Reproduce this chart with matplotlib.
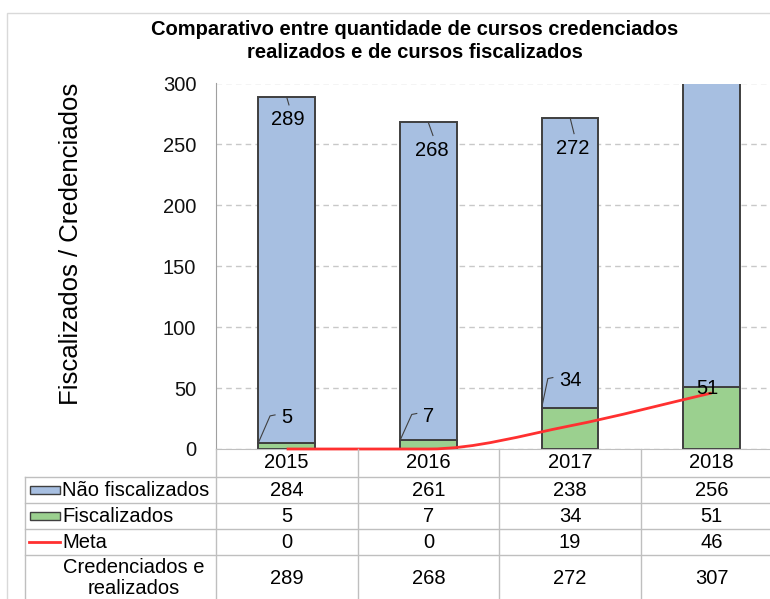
import numpy as np
import matplotlib
matplotlib.use('Agg')
import matplotlib.pyplot as plt
from matplotlib.path import Path
from matplotlib.patches import PathPatch, Rectangle
from matplotlib.lines import Line2D
import matplotlib.transforms as mtransforms

plt.rcParams['font.family'] = ['Liberation Sans', 'DejaVu Sans']

# ---------------- data ----------------
years = ['2015', '2016', '2017', '2018']
nao_fiscalizados = [284, 261, 238, 256]
fiscalizados = [5, 7, 34, 51]
meta = [0, 0, 19, 46]
credenciados = [289, 268, 272, 307]

title = 'Comparativo entre quantidade de cursos credenciados\nrealizados e de cursos fiscalizados'
ylabel = 'Fiscalizados / Credenciados'
row_labels = ['Não fiscalizados', 'Fiscalizados', 'Meta', 'Credenciados e\nrealizados']
yticks = [0, 50, 100, 150, 200, 250, 300]

# ---------------- style ----------------
BLUE = '#A7BFE1'
GREEN = '#9BD08F'
EDGE = '#3F3F3F'
RED = '#FF3030'
GRID = '#C8C8C8'
TBL = '#BFBFBF'
FS = 14.5

W, H = 770, 599
fig = plt.figure(figsize=(W / 100, H / 100), dpi=100)


def fx(px):
    return px / W


def fy(py):
    return 1 - py / H


ax_left, ax_right, ax_top, ax_bot = 215.8, 782.6, 83.5, 449.0
ax = fig.add_axes([fx(ax_left), fy(ax_bot), (ax_right - ax_left) / W, (ax_bot - ax_top) / H])

x = np.arange(len(years))
bw = 0.40
ax.bar(x, fiscalizados, bw, color=GREEN, edgecolor=EDGE, linewidth=1.4, zorder=2)
ax.bar(x, nao_fiscalizados, bw, bottom=fiscalizados, color=BLUE, edgecolor=EDGE,
       linewidth=1.4, zorder=2)

ax.set_xlim(-0.5, len(years) - 0.5)
ax.set_ylim(0, 300)
ax.set_yticks(yticks)
ax.set_xticks([])
ax.yaxis.grid(True, linestyle=(0, (4, 3)), color=GRID, linewidth=1)
ax.set_axisbelow(True)
ax.tick_params(axis='y', length=0, pad=14, labelsize=FS, labelcolor='#111111')
for s in ['top', 'right']:
    ax.spines[s].set_visible(False)
ax.spines['left'].set_color('#A0A0A0')
ax.spines['bottom'].set_color(TBL)


# smoothed Meta line (Bezier through the data points, no overshoot on flat parts)
def smooth_path(xs, ys):
    pts = np.column_stack([xs, ys]).astype(float)
    n = len(pts)
    tang = []
    for i in range(n):
        if i == 0:
            t = pts[1] - pts[0]
        elif i == n - 1:
            t = pts[-1] - pts[-2]
        else:
            s0 = pts[i][1] - pts[i - 1][1]
            s1 = pts[i + 1][1] - pts[i][1]
            t = (pts[i + 1] - pts[i - 1]) / 2
            if s0 * s1 <= 0:
                t = np.array([t[0], 0.0])
        tang.append(t)
    verts = [pts[0]]
    codes = [Path.MOVETO]
    for i in range(n - 1):
        verts += [pts[i] + tang[i] / 3, pts[i + 1] - tang[i + 1] / 3, pts[i + 1]]
        codes += [Path.CURVE4] * 3
    return Path(verts, codes)


ax.add_patch(PathPatch(smooth_path(x, meta), fill=False, edgecolor=RED, linewidth=2,
                       clip_on=False, zorder=4))

# ---------------- data labels with leaders ----------------
fig.canvas.draw()
to_disp = ax.transData.transform
ident = mtransforms.IdentityTransform()
digit_w = 0.556 * FS * 100 / 72

# labels of stacked totals (blue segments) : offsets (dx, dy) in px, y downward
blue_off = [(1.3, 23), (3.6, 28), (3.0, 31), (0, 28)]
for i in range(len(years)):
    top = fiscalizados[i] + nao_fiscalizados[i]
    if top > ax.get_ylim()[1]:
        continue
    cx, cy = to_disp((x[i], top))
    dx, dy = blue_off[i]
    tx, ty = cx + dx, cy - dy
    fig.text(tx / W, ty / H, str(credenciados[i]), ha='center', va='center',
             fontsize=FS, zorder=6)
    fig.add_artist(Line2D([cx, tx + 1], [cy, ty + 15], transform=ident,
                          color='#404040', linewidth=0.8, zorder=6))

# labels of green segments
green_off = [(0, 25), (0, 24), (0, 27), (-4, -2)]
green_leader = [True, True, True, False]
for i in range(len(years)):
    top = fiscalizados[i]
    cx, cy = to_disp((x[i], top))
    lx, _ = to_disp((x[i] - bw / 2, top))
    dx, dy = green_off[i]
    tx, ty = cx + dx, cy + dy
    fig.text(tx / W, ty / H, str(fiscalizados[i]), ha='center', va='center',
             fontsize=FS, zorder=6)
    if green_leader[i]:
        tleft = tx - len(str(fiscalizados[i])) * digit_w / 2
        fig.add_artist(Line2D([lx, tleft - 11, tleft - 6], [cy, ty + 2, ty + 3],
                              transform=ident, color='#404040', linewidth=0.8, zorder=6))

# ---------------- title & y label ----------------
fig.text(fx(415), fy(41), title, ha='center', va='center', fontsize=14.5,
         fontweight='bold', linespacing=1.22)
fig.text(fx(71), fy(244), ylabel, rotation=90, ha='center', va='center', fontsize=18.5)

# ---------------- data table ----------------
bt = mtransforms.blended_transform_factory(ax.transData, fig.transFigure)
row_y = [490, 516, 542, 578]
for i, yr in enumerate(years):
    t = fig.text(0, 0, yr, transform=bt, fontsize=FS, ha='center', va='center')
    t.set_position((x[i], fy(463)))
table_vals = [nao_fiscalizados, fiscalizados, meta, credenciados]
for r, vals in enumerate(table_vals):
    for i, v in enumerate(vals):
        t = fig.text(0, 0, str(v), transform=bt, fontsize=FS, ha='center', va='center')
        t.set_position((x[i], fy(row_y[r])))

for r, lab in enumerate(row_labels[:3]):
    fig.text(fx(62), fy(row_y[r]), lab, ha='left', va='center', fontsize=FS)
fig.text(fx(134), fy(row_y[3]), row_labels[3], ha='center', va='center', fontsize=FS,
         linespacing=1.1)

# legend keys
fig.add_artist(Rectangle((fx(30), fy(row_y[0] + 4)), 30 / W, 8 / H, transform=fig.transFigure,
                         facecolor=BLUE, edgecolor=EDGE, linewidth=1))
fig.add_artist(Rectangle((fx(30), fy(row_y[1] + 4)), 30 / W, 8 / H, transform=fig.transFigure,
                         facecolor=GREEN, edgecolor=EDGE, linewidth=1))
fig.add_artist(Line2D([fx(29), fx(60)], [fy(row_y[2]), fy(row_y[2])],
                      transform=fig.transFigure, color=RED, linewidth=2))

# table grid lines
for yl in [477, 503, 529, 555]:
    fig.add_artist(Line2D([fx(25), 1.05], [fy(yl), fy(yl)], transform=fig.transFigure,
                          color=TBL, linewidth=1))
for k in range(len(years)):
    fig.add_artist(Line2D([x[k] - 0.5, x[k] - 0.5], [fy(ax_bot), 0], transform=bt,
                          color=TBL, linewidth=1))
fig.add_artist(Line2D([fx(25), fx(25)], [fy(477), 0], transform=fig.transFigure,
                      color=TBL, linewidth=1))

# outer chart border
fig.add_artist(Rectangle((fx(7), -0.2), 1.5, fy(13) + 0.2, transform=fig.transFigure,
                         fill=False, edgecolor='#D9D9D9', linewidth=1))

fig.savefig('out.png', dpi=100)
